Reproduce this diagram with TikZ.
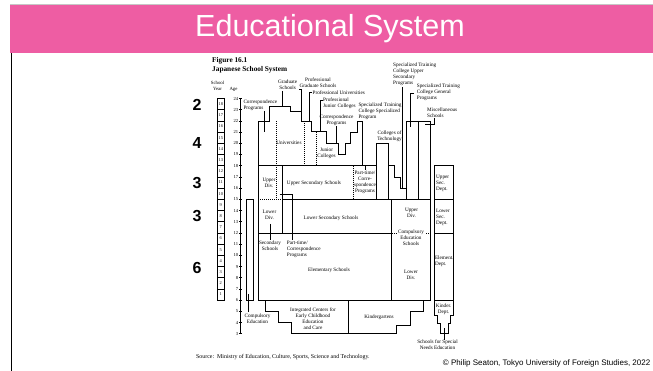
\documentclass[tikz,border=0pt]{standalone}
\usepackage{fontspec}
\setmainfont{Liberation Serif}
\newfontfamily\sansf{Liberation Sans}
\definecolor{banner}{RGB}{238,93,163}
\begin{document}
\begin{tikzpicture}[x=1pt,y=-1pt,
  ln/.style={line width=0.65pt},
  dl/.style={line width=0.5pt, dash pattern=on 1pt off 1pt},
  ldr/.style={line width=0.45pt},
  lbl/.style={font=\fontsize{5.2}{6}\selectfont, align=center, inner sep=0pt},
  lbll/.style={lbl, align=left},
  big/.style={font=\sansf\bfseries\fontsize{16}{16}\selectfont, inner sep=0pt},
  agel/.style={font=\fontsize{4.6}{5}\selectfont, inner sep=0pt, anchor=east},
  yrbox/.style={draw, line width=0.45pt, minimum width=6.5pt, minimum height=11.2pt, inner sep=0pt, font=\fontsize{4.4}{5}\selectfont}
]
\useasboundingbox (0,0) rectangle (653,371);
% banner
\fill[banner] (10,5) rectangle (653,53);
\draw[gray!45, line width=0.8pt] (10,4.6) -- (653,4.6);
\draw[line width=1pt] (11.5,53) -- (11.5,371);
\node[font=\sansf\fontsize{30.5}{30}\selectfont, text=white, inner sep=0pt] (title) at (330,29) {Educational System};

% headings
\node[font=\bfseries\fontsize{7.3}{8}\selectfont, anchor=west, inner sep=0pt] (fig) at (212,61) {Figure 16.1};
\node[font=\bfseries\fontsize{7.3}{8}\selectfont, anchor=west, inner sep=0pt] (figt) at (212,69.5) {Japanese School System};
\node[lbl, font=\fontsize{4.8}{6}\selectfont] (sy) at (217.5,86) {School\\Year};
\node[lbl, font=\fontsize{4.8}{6}\selectfont] (agehd) at (233.5,89) {Age};

% school years
\foreach \k in {1,...,18} {
  \pgfmathsetmacro\yt{98.5+(18-\k)*11.2+5.6}
  \node[yrbox] (yr\k) at (220.75,\yt) {\k};
}
% age axis
\draw[ln] (240,98.5) -- (240,333.7);
\foreach \a in {3,...,24} {
  \pgfmathsetmacro\yy{98.5+(24-\a)*11.2}
  \draw[ldr] (238.8,\yy) -- (242.3,\yy);
  \node[agel] (age\a) at (238.3,\yy) {\a};
}

% big numbers
\node[big] (n2) at (197,105) {2};
\node[big] (n4) at (197,143) {4};
\node[big] (n3a) at (197,183) {3};
\node[big] (n3b) at (197,216) {3};
\node[big] (n6) at (197,268) {6};

% ---- upper outline
\draw[ln] (258,165.7) -- (258,120.9) -- (269,120.9) -- (269,106) -- (290,106) -- (290,111.7) -- (301.7,111.7) -- (301.7,120.9) -- (311.7,120.9) -- (311.7,131.7) -- (326.7,131.7) -- (326.7,143.3) -- (338.3,143.3) -- (338.3,154.5) -- (345,154.5) -- (345,143.3) -- (350,143.3) -- (350,132.1) -- (357.3,132.1) -- (357.3,120.9) -- (362,120.9) -- (362,165.7);
\draw[dl] (276.7,120.9) -- (276.7,199.3);
\draw[dl] (304.5,120.9) -- (304.5,165.7);
\draw[dl] (316.7,131.7) -- (316.7,165.7);

% ---- secondary & elementary
\draw[ln] (258,165.7) -- (376.7,165.7);
\draw[ln] (376.7,143.3) rectangle (388.3,199.3);
\draw[ln] (282.5,199.3) -- (430,199.3);
\draw[dl] (258,199.3) -- (282.5,199.3);
\draw[ln] (282.5,165.7) -- (282.5,232.9);
\draw[ln] (258,165.7) -- (258,300.1) -- (391.5,300.1);
\draw[ln] (258,232.9) -- (391.5,232.9);
\draw[ln] (391.5,199.3) rectangle (430,300.1);
\draw[dl] (391.5,232.9) -- (396,232.9);
\draw[dl] (426,232.9) -- (430,232.9);
\draw[dl] (353,165.7) -- (353,199.3);
\draw[ln] (246,199.3) rectangle (253.3,300.1);

% ---- right columns
\draw[ln] (406.7,199.3) -- (406.7,120.9) -- (430,120.9) -- (430,199.3);
\draw[ln] (418.3,120.9) -- (418.3,199.3);
\draw[ln] (388.3,165.7) -- (394.5,165.7) -- (394.5,176.9) -- (400.6,176.9) -- (400.6,188.1) -- (406.7,188.1);

% ---- special needs
\draw[ln] (434,165.7) rectangle (453.3,300.1);
\draw[ln] (434,199.3) -- (453.3,199.3);
\draw[ln] (434,232.9) -- (453.3,232.9);
\draw[ln] (434,300.1) -- (434,315) -- (437.3,315) -- (437.3,323.3) -- (440,323.3) -- (440,333.7) -- (448.3,333.7) -- (448.3,323.3) -- (450,323.3) -- (450,315) -- (453.3,315) -- (453.3,300.1);

% ---- early childhood
\draw[ln] (265,300.1) -- (265,311.3) -- (278.3,311.3) -- (278.3,322.5) -- (291.7,322.5) -- (291.7,333.7) -- (396.7,333.7) -- (396.7,325) -- (410,325) -- (410,311.7) -- (423.3,311.7) -- (423.3,300.1);
\draw[ln] (348.3,300.1) -- (348.3,333.7);

% ---- leaders
\draw[ldr] (264,111) -- (264,132);
\draw[ldr] (282,91) -- (282,106);
\draw[ldr] (299,89.5) -- (301.7,89.5) -- (301.7,111.7);
\draw[ldr] (312,92.3) -- (309.5,92.3) -- (309.5,120.9);
\draw[ldr] (322.5,100.5) -- (320,100.5) -- (320,131.7);
\draw[ldr] (336.5,126.5) -- (336.5,143.3);
\draw[ldr] (365,165.7) -- (365,170.5);
\draw[ldr] (402.5,87) -- (402.5,188.1);
\draw[ldr] (414,93.3) -- (410.5,93.3) -- (410.5,127);
\draw[ldr] (434,118.5) -- (434,124.5) -- (425,124.5);
\draw[ldr] (270,224) -- (270,240.5);
\draw[ldr] (279.5,194) -- (292,194) -- (292,240.5);
\draw[ldr] (248.5,294) -- (248.5,312);
\draw[ldr] (444,328) -- (444,339.5);

% ---- labels
\node[lbll, anchor=west] (tcorr1) at (243.3,105.3) {Correspondence\\Programs};
\node[lbl] (tgrad) at (287.7,84.7) {Graduate\\Schools};
\node[lbl] (tpgrad) at (318,82.7) {Professional\\Graduate Schools};
\node[lbll, anchor=west] (tpuniv) at (312.5,92.3) {Professional Universities};
\node[lbll, anchor=west] (tpjc) at (323,103.3) {Professional\\Junior Colleges};
\node[lbl] (tcorr2) at (336.5,120) {Correspondence\\Programs};
\node[lbll, anchor=west] (tstcs) at (358.3,111.7) {Specialized Training\\College Specialized\\Program};
\node[lbl] (tcot) at (389.5,136.5) {Colleges of\\Technology};
\node[lbll, anchor=west] (tstus) at (393,74.5) {Specialized Training\\College Upper\\Secondary\\Programs};
\node[lbll, anchor=west] (tstg) at (416.7,92.3) {Specialized Training\\College General\\Programs};
\node[lbll, anchor=west] (tmisc) at (427,113) {Miscellaneous\\Schools};
\node[lbl] (tuniv) at (289,143) {Universities};
\node[lbl] (tjc) at (326.5,153.5) {Junior\\Colleges};
\node[lbl] (tud) at (269,182.5) {Upper\\Div.};
\node[lbl] (tuss) at (314,183) {Upper Secondary Schools};
\node[lbl] (tptc) at (365,182.5) {Part-time/\\Corre-\\spondence\\Programs};
\node[lbl] (tld) at (269.5,215.3) {Lower\\Div.};
\node[lbl] (tlss) at (331,218.3) {Lower Secondary Schools};
\node[lbl] (tss) at (270,246) {Secondary\\Schools};
\node[lbll, anchor=west] (tptc2) at (286.7,249.3) {Part-time/\\Correspondence\\Programs};
\node[lbl] (tes) at (329,270) {Elementary Schools};
\node[lbl] (tcud) at (411.5,213) {Upper\\Div.};
\node[lbl] (tces) at (411,237.7) {Compulsory\\Education\\Schools};
\node[lbl] (tcld) at (411,274.5) {Lower\\Div.};
\node[lbll, anchor=west] (tsnu) at (436,183) {Upper\\Sec.\\Dept.};
\node[lbll, anchor=west] (tsnl) at (436,217.5) {Lower\\Sec.\\Dept.};
\node[lbll, anchor=west] (tsne) at (434.8,261.2) {Element.\\Dept.};
\node[lbl] (tsnk) at (443.6,309) {Kinder.\\Dept.};
\node[lbl] (tsn) at (437.5,345) {Schools for Special\\Needs Education};
\node[lbl] (tce) at (257.5,318.5) {Compulsory\\Education};
\node[lbl] (tic) at (313,318.7) {Integrated Centers for\\Early Childhood\\Education\\and Care};
\node[lbl] (tkg) at (379,317.3) {Kindergartens};
\node[font=\fontsize{5.9}{6}\selectfont, anchor=west, inner sep=0pt] (src) at (196,357) {Source:\ \ Ministry of Education, Culture, Sports, Science and Technology.};
\node[font=\sansf\fontsize{8}{9}\selectfont, anchor=east, inner sep=0pt] (copy) at (650.5,363.5) {© Philip Seaton, Tokyo University of Foreign Studies, 2022};
\end{tikzpicture}
\end{document}
